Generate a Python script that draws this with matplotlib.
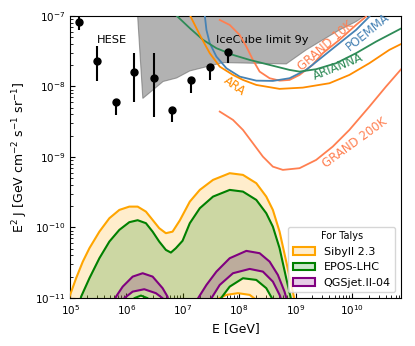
import numpy as np
import matplotlib.pyplot as plt
import matplotlib.colors as mcolors
from matplotlib.patches import Patch

plt.rcParams['xtick.direction'] = 'in'
plt.rcParams['ytick.direction'] = 'in'

# HESE points (log10 E [GeV], log10 flux) and error bar ends
hese_logE = [5.15, 5.48, 5.81, 6.14, 6.48, 6.81, 7.14, 7.48, 7.81]
hese_logy = [-7.09, -7.64, -8.22, -7.80, -7.88, -8.33, -7.91, -7.73, -7.51]
hese_lo = [-7.20, -7.93, -8.40, -8.22, -8.44, -8.51, -8.09, -7.91, -7.67]
hese_hi = [-6.95, -7.43, -8.22, -7.53, -7.53, -8.33, -7.91, -7.73, -7.51]

# IceCube 9y limit, lower edge of shaded region
ic_logE = [6.19, 6.29, 6.65, 6.89, 7.124, 7.478, 7.713, 8.835, 8.894, 9.189, 9.483, 9.779, 10.074, 10.251, 10.4]
ic_logy = [-6.9, -8.17, -7.93, -7.88, -7.78, -7.709, -7.662, -7.681, -7.648, -7.482, -7.34, -7.199, -7.081, -6.986, -6.9]

# sensitivities
grand10k_logE = [7.655, 7.832, 8.009, 8.127, 8.244, 8.363, 8.540, 8.717, 8.894, 9.071, 9.301,
                 9.483, 9.779, 10.074, 10.251, 10.35]
grand10k_logy = [-7.057, -7.128, -7.270, -7.435, -7.624, -7.790, -7.884, -7.918, -7.908, -7.837,
                 -7.695, -7.529, -7.340, -7.128, -7.010, -6.9]
poemma_logE = [7.36, 7.389, 7.419, 7.478, 7.596, 7.773, 8.009, 8.304, 8.598, 8.894, 9.189, 9.483,
               9.779, 10.074, 10.310, 10.4]
poemma_logy = [-6.85, -6.986, -7.199, -7.387, -7.577, -7.742, -7.861, -7.918, -7.922, -7.884, -7.766,
               -7.577, -7.387, -7.199, -7.010, -6.9]
arianna_logE = [6.80, 6.888, 7.124, 7.359, 7.596, 7.890, 8.186, 8.540, 8.894, 9.071, 9.366, 9.720,
                10.074, 10.428, 10.87]
arianna_logy = [-6.9, -6.996, -7.174, -7.340, -7.458, -7.553, -7.624, -7.695, -7.766, -7.790, -7.756,
                -7.671, -7.529, -7.365, -7.18]
ara_logE = [7.10, 7.124, 7.301, 7.478, 7.655, 7.890, 8.067, 8.304, 8.717, 9.129, 9.602, 9.956,
            10.310, 10.664, 10.87]
ara_logy = [-6.9, -6.986, -7.270, -7.529, -7.719, -7.837, -7.908, -7.979, -8.035, -8.017, -7.955,
            -7.837, -7.671, -7.482, -7.40]
grand200k_logE = [7.655, 7.890, 8.067, 8.244, 8.421, 8.598, 8.775, 9.071, 9.366, 9.660, 9.956,
                  10.310, 10.605, 10.87]
grand200k_logy = [-8.357, -8.475, -8.617, -8.806, -8.996, -9.138, -9.184, -9.160, -9.043, -8.854,
                  -8.617, -8.287, -8.003, -7.76]

# Talys model bands (upper and lower edges)
sib_hi_logE = [4.93, 4.988, 5.106, 5.225, 5.342, 5.519, 5.696, 5.873, 6.050, 6.198, 6.345, 6.464,
               6.581, 6.699, 6.818, 6.947, 7.124, 7.301, 7.536, 7.832, 8.067, 8.304, 8.481, 8.598,
               8.717, 8.835, 8.952, 8.982, 9.0]
sib_hi_logy = [-11.17, -10.982, -10.721, -10.485, -10.295, -10.060, -9.870, -9.752, -9.705, -9.705,
               -9.776, -9.894, -10.011, -10.082, -10.060, -9.90, -9.634, -9.468, -9.326, -9.231,
               -9.255, -9.373, -9.563, -9.752, -10.060, -10.485, -10.911, -11.028, -11.17]
sib_lo_logE = [4.93, 6.2, 6.7, 7.3, 7.549, 7.596, 7.773, 7.979, 8.186, 8.304, 8.345, 8.7, 9.0]
sib_lo_logy = [-13.0, -11.4, -12.2, -11.6, -11.17, -11.028, -10.957, -10.933, -10.957, -11.028,
               -11.17, -12.0, -13.0]

epos_hi_logE = [5.142, 5.195, 5.342, 5.519, 5.696, 5.873, 6.050, 6.198, 6.345, 6.464, 6.581, 6.699,
                6.788, 6.876, 6.995, 7.124, 7.301, 7.536, 7.832, 8.067, 8.304, 8.481, 8.598, 8.717,
                8.835, 8.924, 8.947]
epos_hi_logy = [-11.17, -10.982, -10.721, -10.437, -10.201, -10.035, -9.926, -9.898, -9.940, -10.060,
                -10.201, -10.319, -10.357, -10.295, -10.19, -9.940, -9.728, -9.563, -9.468, -9.492,
                -9.610, -9.799, -9.989, -10.295, -10.721, -11.028, -11.17]
epos_lo_logE = [5.142, 6.08, 6.138, 6.257, 6.375, 6.43, 7.035, 7.60, 7.655, 7.832, 8.067, 8.304,
                8.481, 8.598, 8.628, 8.947]
epos_lo_logy = [-13.0, -11.17, -11.004, -10.967, -11.004, -11.17, -12.16, -11.17, -11.028, -10.840,
                -10.721, -10.745, -10.862, -11.028, -11.17, -13.0]

qgs_hi_logE = [5.761, 5.814, 5.933, 6.110, 6.287, 6.464, 6.641, 6.729, 6.77, 7.0, 7.23, 7.271,
               7.419, 7.596, 7.832, 8.127, 8.363, 8.540, 8.687, 8.805, 8.846, 8.858]
qgs_hi_logy = [-11.17, -10.982, -10.840, -10.698, -10.650, -10.698, -10.862, -10.982, -11.17, -11.88,
               -11.17, -11.004, -10.816, -10.627, -10.437, -10.333, -10.366, -10.485, -10.674,
               -10.911, -11.028, -11.17]
qgs_lo_logE = [5.761, 5.903, 5.961, 6.110, 6.315, 6.522, 6.641, 6.681, 7.035, 7.46, 7.508, 7.655,
               7.890, 8.186, 8.421, 8.598, 8.717, 8.747, 8.77, 8.858]
qgs_lo_logy = [-13.0, -11.17, -11.004, -10.911, -10.877, -10.933, -11.004, -11.17, -11.88, -11.17,
               -11.004, -10.816, -10.650, -10.589, -10.627, -10.769, -10.957, -11.028, -11.17, -13.0]


def p(a):
    return 10.0 ** np.array(a)


fig, ax = plt.subplots(figsize=(4.15, 3.46), dpi=100)
fig.subplots_adjust(left=0.169, right=0.966, bottom=0.139, top=0.954)

# IceCube limit region
ic_x = list(p(ic_logE)) + [p(10.4), p(6.19)]
ic_y = list(p(ic_logy)) + [1e-6, 1e-6]
ax.fill(ic_x, ic_y, facecolor='gray', alpha=0.6, edgecolor='dimgray', lw=0.8, zorder=1)

# model bands
models = [
    ('Sibyll 2.3', 'orange', sib_hi_logE, sib_hi_logy, sib_lo_logE, sib_lo_logy),
    ('EPOS-LHC', 'green', epos_hi_logE, epos_hi_logy, epos_lo_logE, epos_lo_logy),
    ('QGSjet.II-04', 'purple', qgs_hi_logE, qgs_hi_logy, qgs_lo_logE, qgs_lo_logy),
]
handles = []
for name, c, hx, hy, lx, ly in models:
    px = list(p(hx)) + list(p(lx)[::-1])
    py = list(p(hy)) + list(p(ly)[::-1])
    ax.fill(px, py, color=c, alpha=0.2, lw=0, zorder=2)
    ax.plot(p(hx), p(hy), color=c, lw=1.5, zorder=3)
    ax.plot(p(lx), p(ly), color=c, lw=1.5, zorder=3)
    rgb = np.array(mcolors.to_rgb(c))
    handles.append(Patch(facecolor=tuple(1 - 0.2 * (1 - rgb)), edgecolor=c, lw=1.5, label=name))

# sensitivity curves
ax.plot(p(grand10k_logE), p(grand10k_logy), color='coral', lw=1.3, zorder=4)
ax.plot(p(poemma_logE), p(poemma_logy), color='steelblue', lw=1.3, zorder=4)
ax.plot(p(arianna_logE), p(arianna_logy), color='seagreen', lw=1.3, zorder=4)
ax.plot(p(ara_logE), p(ara_logy), color='darkorange', lw=1.3, zorder=4)
ax.plot(p(grand200k_logE), p(grand200k_logy), color='coral', lw=1.3, zorder=4)

# HESE
y = p(hese_logy)
yerr = [y - p(hese_lo), p(hese_hi) - y]
ax.errorbar(p(hese_logE), y, yerr=yerr, fmt='o', color='black', ms=5, lw=1.5, zorder=5)

# labels
kw = dict(ha='center', va='center', rotation_mode='anchor', fontsize=8.5)
ax.text(10**9.527, 10**-7.42, 'GRAND 10K', color='coral', rotation=41, **kw)
ax.text(10**10.28, 10**-7.234, 'POEMMA', color='steelblue', rotation=39, **kw)
ax.text(10**9.749, 10**-7.719, 'ARIANNA', color='seagreen', rotation=22, **kw)
ax.text(10**7.92, 10**-7.99, 'ARA', color='darkorange', rotation=-36, **kw)
ax.text(10**10.058, 10**-8.794, 'GRAND 200K', color='coral', rotation=36, **kw)
ax.text(10**5.738, 10**-7.34, 'HESE', ha='center', va='center', fontsize=8.2)
ax.text(10**8.407, 10**-7.34, 'IceCube limit 9y', ha='center', va='center', fontsize=8.2)

ax.set_xscale('log')
ax.set_yscale('log')
ax.set_xlim(1e5, 10**10.87)
ax.set_ylim(1e-11, 1e-7)
ax.tick_params(labelsize=7.5)
ax.set_xlabel('E [GeV]', fontsize=9)
ax.set_ylabel(r'E$^2$ J [GeV cm$^{-2}$ s$^{-1}$ sr$^{-1}$]', fontsize=9)

ax.legend(handles=handles, loc='lower right', title='For Talys', fontsize=8,
          title_fontsize=7)

fig.savefig('out.png', dpi=100)
